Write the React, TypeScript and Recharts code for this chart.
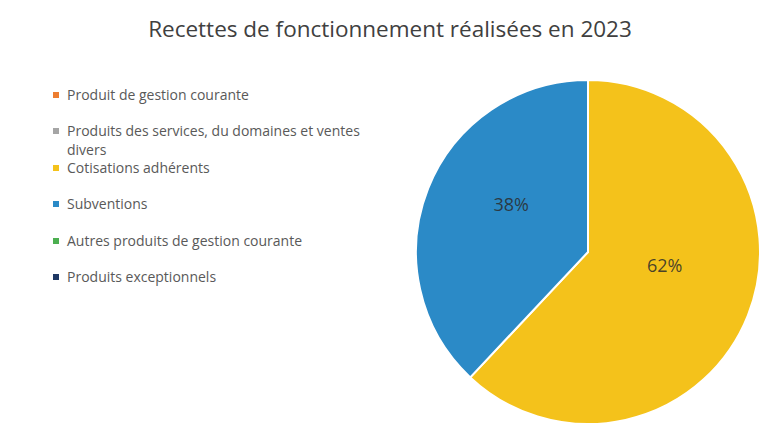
import { PieChart, Pie, Cell, Legend } from "recharts";

const categories = [
  "Produit de gestion courante",
  "Produits des services, du domaines et ventes divers",
  "Cotisations adhérents",
  "Subventions",
  "Autres produits de gestion courante",
  "Produits exceptionnels",
];
const shares = [0, 0, 62, 38, 0, 0];
const colors = ["#ED7D31", "#A5A5A5", "#F4C21B", "#2B8AC7", "#4CAF50", "#1F3864"];
const title = "Recettes de fonctionnement réalisées en 2023";

const data = categories.map((name, i) => ({ name, value: shares[i] }));

const RADIAN = Math.PI / 180;
const FONT = "'Open Sans', sans-serif";

function renderLabel(props: any) {
  const { cx, cy, midAngle, outerRadius, percent, value } = props;
  if (!value) return null;
  const r = outerRadius * 0.48;
  const x = cx + r * Math.cos(-midAngle * RADIAN);
  const y = cy + r * Math.sin(-midAngle * RADIAN) - outerRadius * 0.1;
  return (
    <text
      x={x}
      y={y}
      fill="#2b2b2b"
      fillOpacity={0.85}
      textAnchor="middle"
      dominantBaseline="central"
      fontSize={18}
      fontFamily={FONT}
    >
      {`${Math.round(percent * 100)}%`}
    </text>
  );
}

function LegendList() {
  return (
    <div style={{ fontFamily: FONT, fontSize: 14, color: "#595959" }}>
      {categories.map((name, i) => (
        <div key={name} style={{ height: 36.4, position: "relative" }}>
          <span
            style={{
              position: "absolute",
              left: 0,
              top: 7,
              width: 6,
              height: 6,
              background: colors[i],
            }}
          />
          <div style={{ marginLeft: 14, width: 320, lineHeight: "19px" }}>{name}</div>
        </div>
      ))}
    </div>
  );
}

export default function App() {
  return (
    <div
      style={{
        position: "absolute",
        left: 0,
        top: 0,
        width: 764,
        height: 439,
        background: "#fff",
      }}
    >
      <div
        style={{
          position: "absolute",
          top: 13,
          left: 0,
          width: 780,
          textAlign: "center",
          fontFamily: FONT,
          fontSize: 22.5,
          color: "#404040",
        }}
      >
        {title}
      </div>
      <PieChart width={764} height={439}>
        <Legend
          content={<LegendList />}
          layout="vertical"
          wrapperStyle={{ left: 53, top: 85, width: 340 }}
        />
        <Pie
          data={data}
          dataKey="value"
          nameKey="name"
          cx={583}
          cy={247}
          outerRadius={172}
          startAngle={90}
          endAngle={-270}
          stroke="#fff"
          strokeWidth={2}
          label={renderLabel}
          labelLine={false}
          isAnimationActive={false}
        >
          {data.map((d, i) => (
            <Cell key={d.name} fill={colors[i]} />
          ))}
        </Pie>
      </PieChart>
    </div>
  );
}
